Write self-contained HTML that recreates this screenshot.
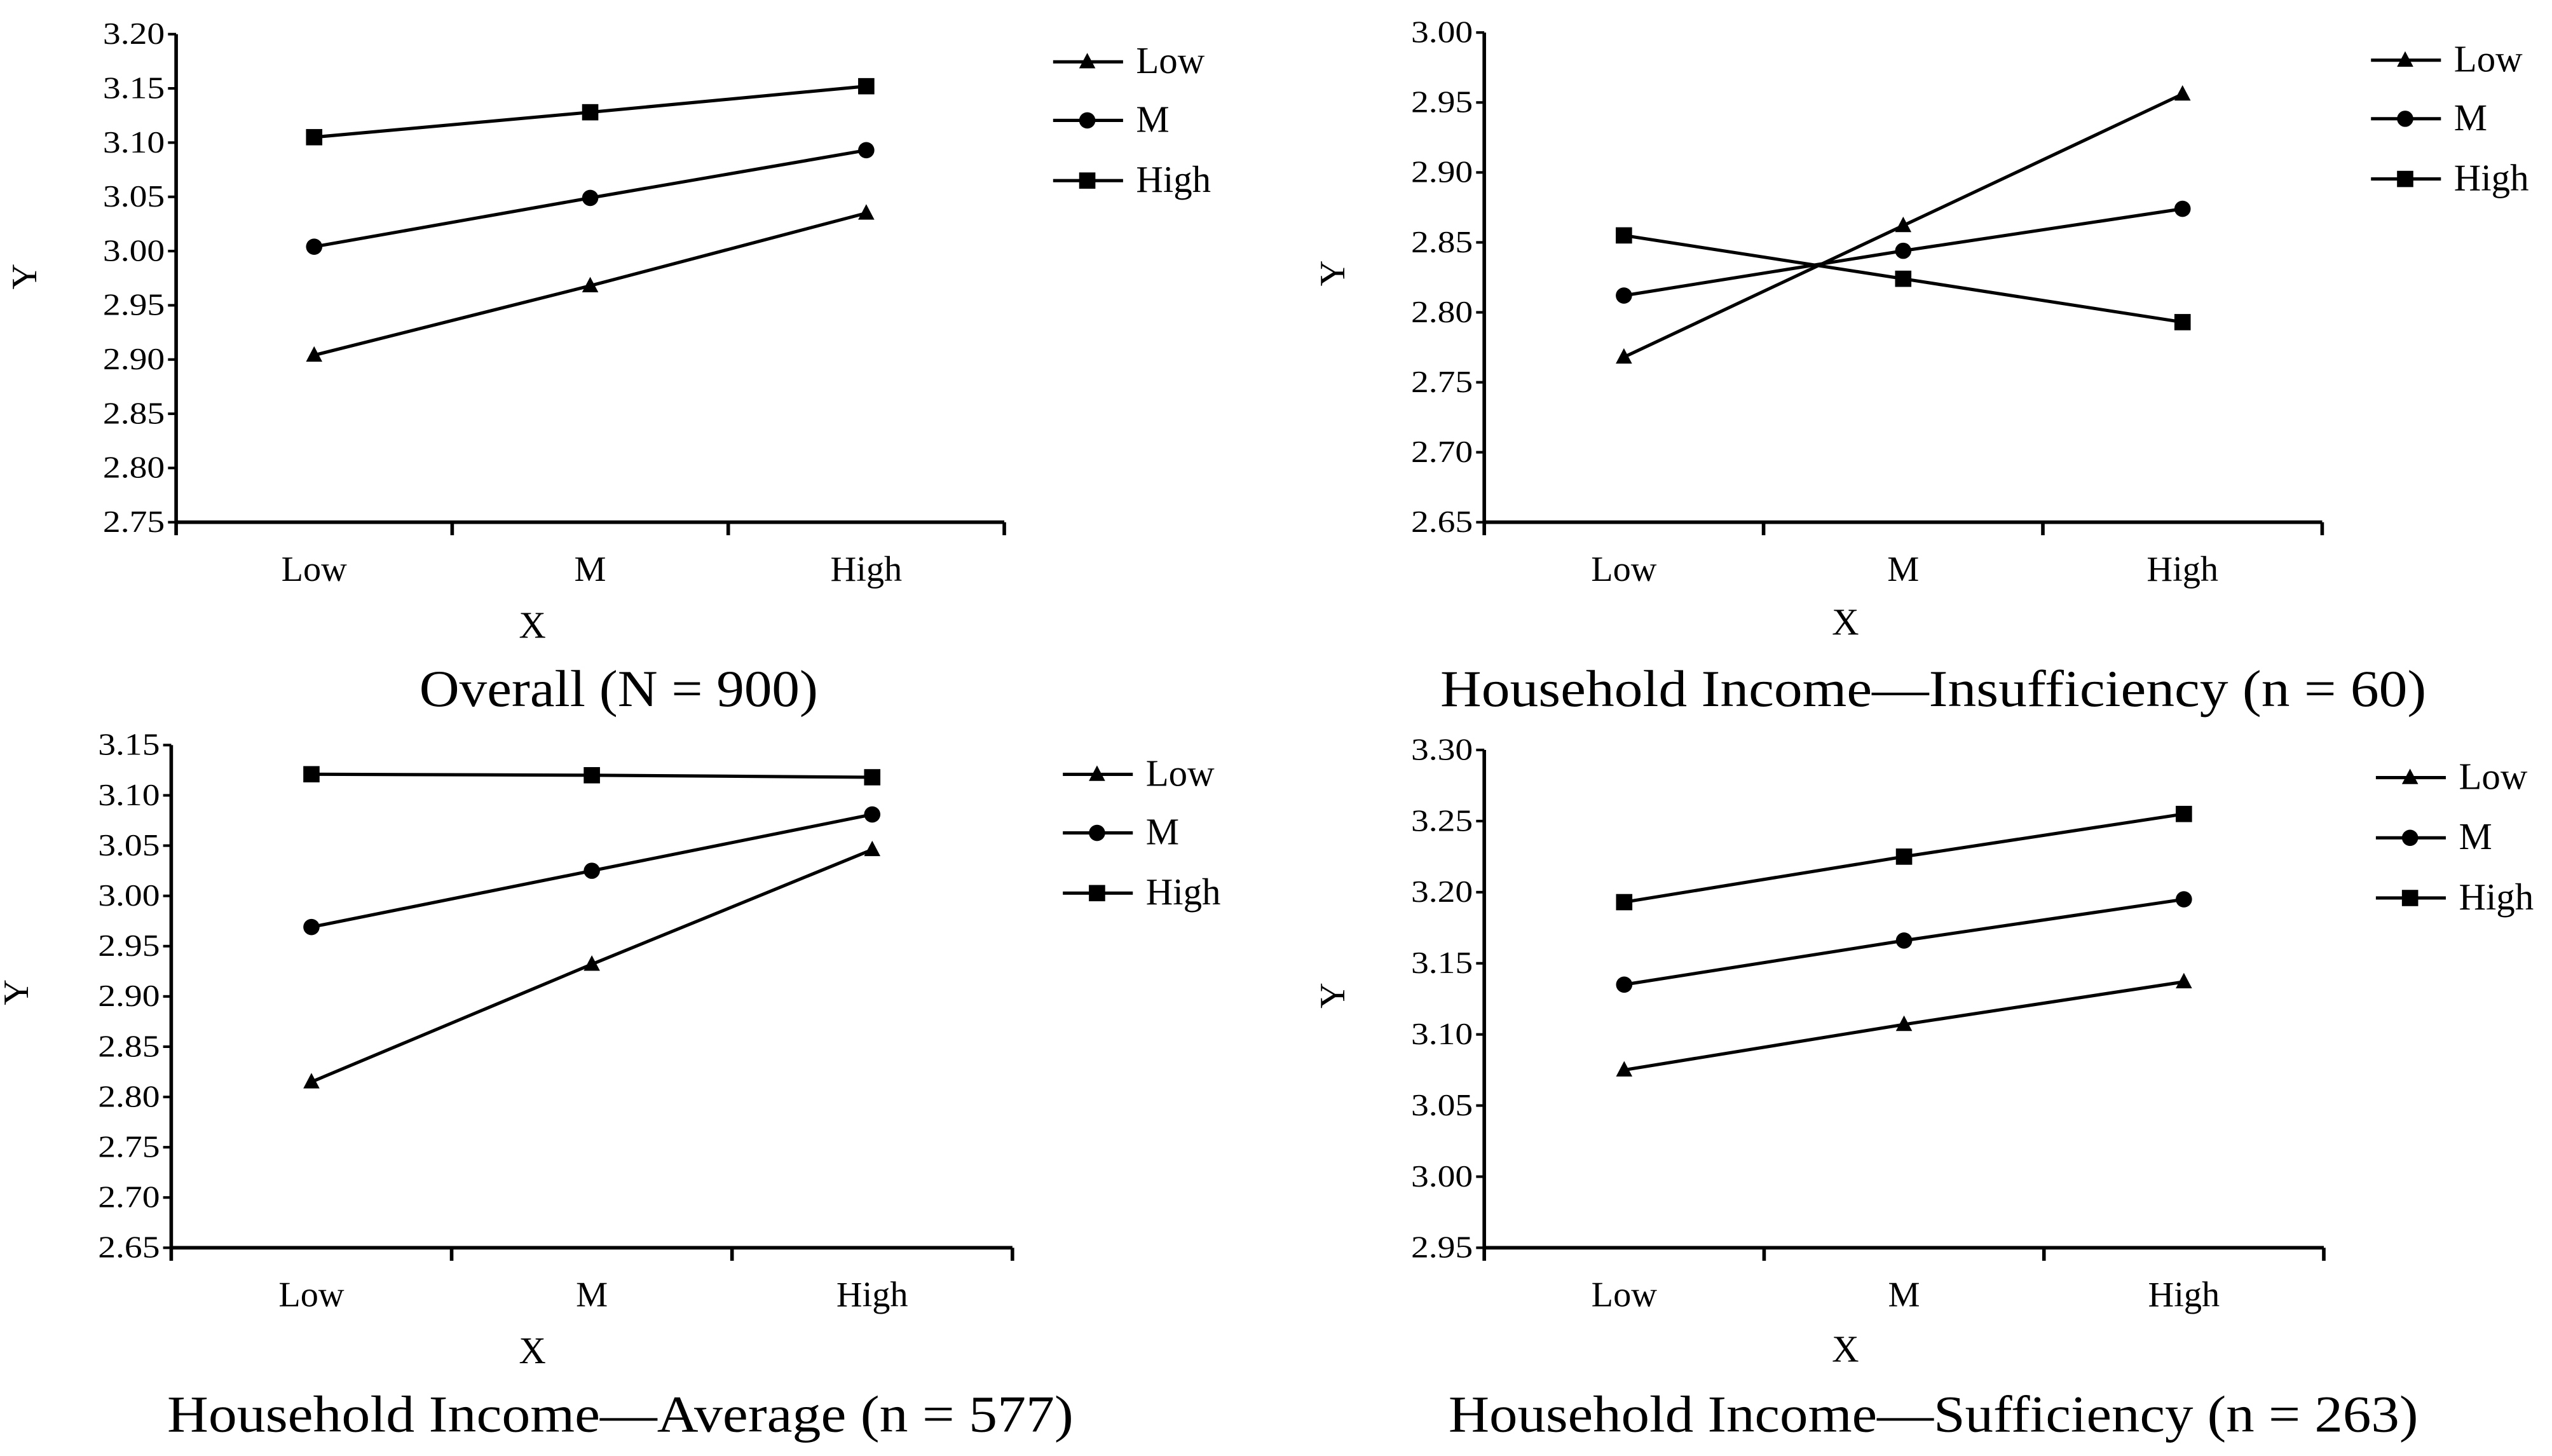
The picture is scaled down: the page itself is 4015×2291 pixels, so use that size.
<!DOCTYPE html>
<html><head><meta charset="utf-8"><style>
html,body{margin:0;padding:0;background:#fff;}
svg{display:block;}
text{font-family:"Liberation Serif",serif;fill:#000;}
</style></head><body>
<svg id="chart" width="4015" height="2291" viewBox="0 0 1568 895" xmlns="http://www.w3.org/2000/svg"></svg>
<script>
const categories = ["Low","M","High"];
const seriesNames = ["Low","M","High"];
const p1Low = [2.904, 2.968, 3.035];
const p1M = [3.004, 3.049, 3.093];
const p1High = [3.105, 3.128, 3.152];
const p2Low = [2.768, 2.862, 2.956];
const p2M = [2.812, 2.844, 2.874];
const p2High = [2.855, 2.824, 2.793];
const p3Low = [2.815, 2.932, 3.046];
const p3M = [2.969, 3.025, 3.081];
const p3High = [3.121, 3.120, 3.118];
const p4Low = [3.075, 3.107, 3.137];
const p4M = [3.135, 3.166, 3.195];
const p4High = [3.193, 3.225, 3.255];
const p1Ticks = ["2.75","2.80","2.85","2.90","2.95","3.00","3.05","3.10","3.15","3.20"];
const p2Ticks = ["2.65","2.70","2.75","2.80","2.85","2.90","2.95","3.00"];
const p3Ticks = ["2.65","2.70","2.75","2.80","2.85","2.90","2.95","3.00","3.05","3.10","3.15"];
const p4Ticks = ["2.95","3.00","3.05","3.10","3.15","3.20","3.25","3.30"];
const titles = ["Overall (N = 900)","Household Income\u2014Insufficiency (n = 60)","Household Income\u2014Average (n = 577)","Household Income\u2014Sufficiency (n = 263)"];

const NS="http://www.w3.org/2000/svg";
const svg=document.getElementById('chart');
function mk(tag,attrs,parent){const e=document.createElementNS(NS,tag);for(const k in attrs)e.setAttribute(k,attrs[k]);(parent||svg).appendChild(e);return e;}

const layouts=[
 {x0:108,x1:617,yTop:21,yBot:321,ticks:p1Ticks,series:[p1Low,p1M,p1High],legX:647,legY:[38,74,111],ylab:[22,170],xlab:[327,384],title:[380,423],tw:245},
 {x0:912,x1:1427,yTop:20,yBot:321,ticks:p2Ticks,series:[p2Low,p2M,p2High],legX:1457,legY:[37,73,110],ylab:[826,168],xlab:[1134,382],title:[1188,423],tw:606},
 {x0:105,x1:622,yTop:458,yBot:767,ticks:p3Ticks,series:[p3Low,p3M,p3High],legX:653,legY:[476,512,549],ylab:[17,610],xlab:[327,830],title:[381,869],tw:557},
 {x0:912,x1:1428,yTop:461,yBot:767,ticks:p4Ticks,series:[p4Low,p4M,p4High],legX:1460,legY:[478,515,552],ylab:[826,612],xlab:[1134,829],title:[1188,869],tw:596}
];

function marker(type,x,y,g){
  let m;
  if(type===0){m=mk('polygon',{points:`${x},${y-5.5} ${x-5},${y+4} ${x+5},${y+4}`,fill:'#000'},g);}
  else if(type===1){m=mk('circle',{cx:x,cy:y,r:5,fill:'#000'},g);}
  else {m=mk('rect',{x:x-5,y:y-5,width:10,height:10,fill:'#000'},g);}
  return m;
}

layouts.forEach((L,pi)=>{
  const g=mk('g',{});
  
  
  const vmin=parseFloat(L.ticks[0]), vmax=parseFloat(L.ticks[L.ticks.length-1]);
  const ys=v=>L.yBot-(v-vmin)/(vmax-vmin)*(L.yBot-L.yTop);
  const step=(L.x1-L.x0)/3;
  const xs=i=>L.x0+step*(i+0.5);
  const ya=mk('line',{x1:L.x0,y1:L.yTop,x2:L.x0,y2:L.yBot,stroke:'#000','stroke-width':2.2},g);
  
  
  const xa=mk('line',{x1:L.x0,y1:L.yBot,x2:L.x1,y2:L.yBot,stroke:'#000','stroke-width':2.2},g);
  
  
  L.ticks.forEach(t=>{
    const y=ys(parseFloat(t));
    mk('line',{x1:L.x0-5,y1:y,x2:L.x0,y2:y,stroke:'#000','stroke-width':1.6},g);
    const tx=mk('text',{x:L.x0-7,y:y+6,'text-anchor':'end','font-size':19,textLength:38,lengthAdjust:'spacingAndGlyphs'},g);
    tx.textContent=t;
    
    
  });
  for(let i=0;i<=3;i++){const x=L.x0+step*i;mk('line',{x1:x,y1:L.yBot,x2:x,y2:L.yBot+8,stroke:'#000','stroke-width':2.2},g);}
  categories.forEach((c,i)=>{
    const tx=mk('text',{x:xs(i),y:L.yBot+36,'text-anchor':'middle','font-size':22},g);
    tx.textContent=c;
    
    
  });
  L.series.forEach((vals,si)=>{
    const pts=vals.map((v,i)=>xs(i)+','+ys(v)).join(' ');
    const pl=mk('polyline',{points:pts,fill:'none',stroke:'#000','stroke-width':2},g);
    
    
    vals.forEach((v,i)=>{
      const m=marker(si,xs(i),ys(v),g);
      
      
    });
    const ly=L.legY[si];
    const ll=mk('line',{x1:L.legX,y1:ly,x2:L.legX+43,y2:ly,stroke:'#000','stroke-width':2},g);
    
    
    marker(si,L.legX+21,ly,g);
    const lt=mk('text',{x:L.legX+51,y:ly+7,'font-size':23},g);
    lt.textContent=seriesNames[si];
    
    
  });
  const yl=mk('text',{x:L.ylab[0],y:L.ylab[1],'text-anchor':'middle','font-size':22,transform:`rotate(-90 ${L.ylab[0]} ${L.ylab[1]})`},g);
  yl.textContent='Y';
  
  
  const xl=mk('text',{x:L.xlab[0],y:L.xlab[1]+8,'text-anchor':'middle','font-size':23},g);
  xl.textContent='X';
  
  
  const tt=mk('text',{x:L.title[0],y:L.title[1]+11,'text-anchor':'middle','font-size':32,textLength:L.tw,lengthAdjust:'spacingAndGlyphs'},g);
  tt.textContent=titles[pi];
  
  
});
</script>
</body></html>
